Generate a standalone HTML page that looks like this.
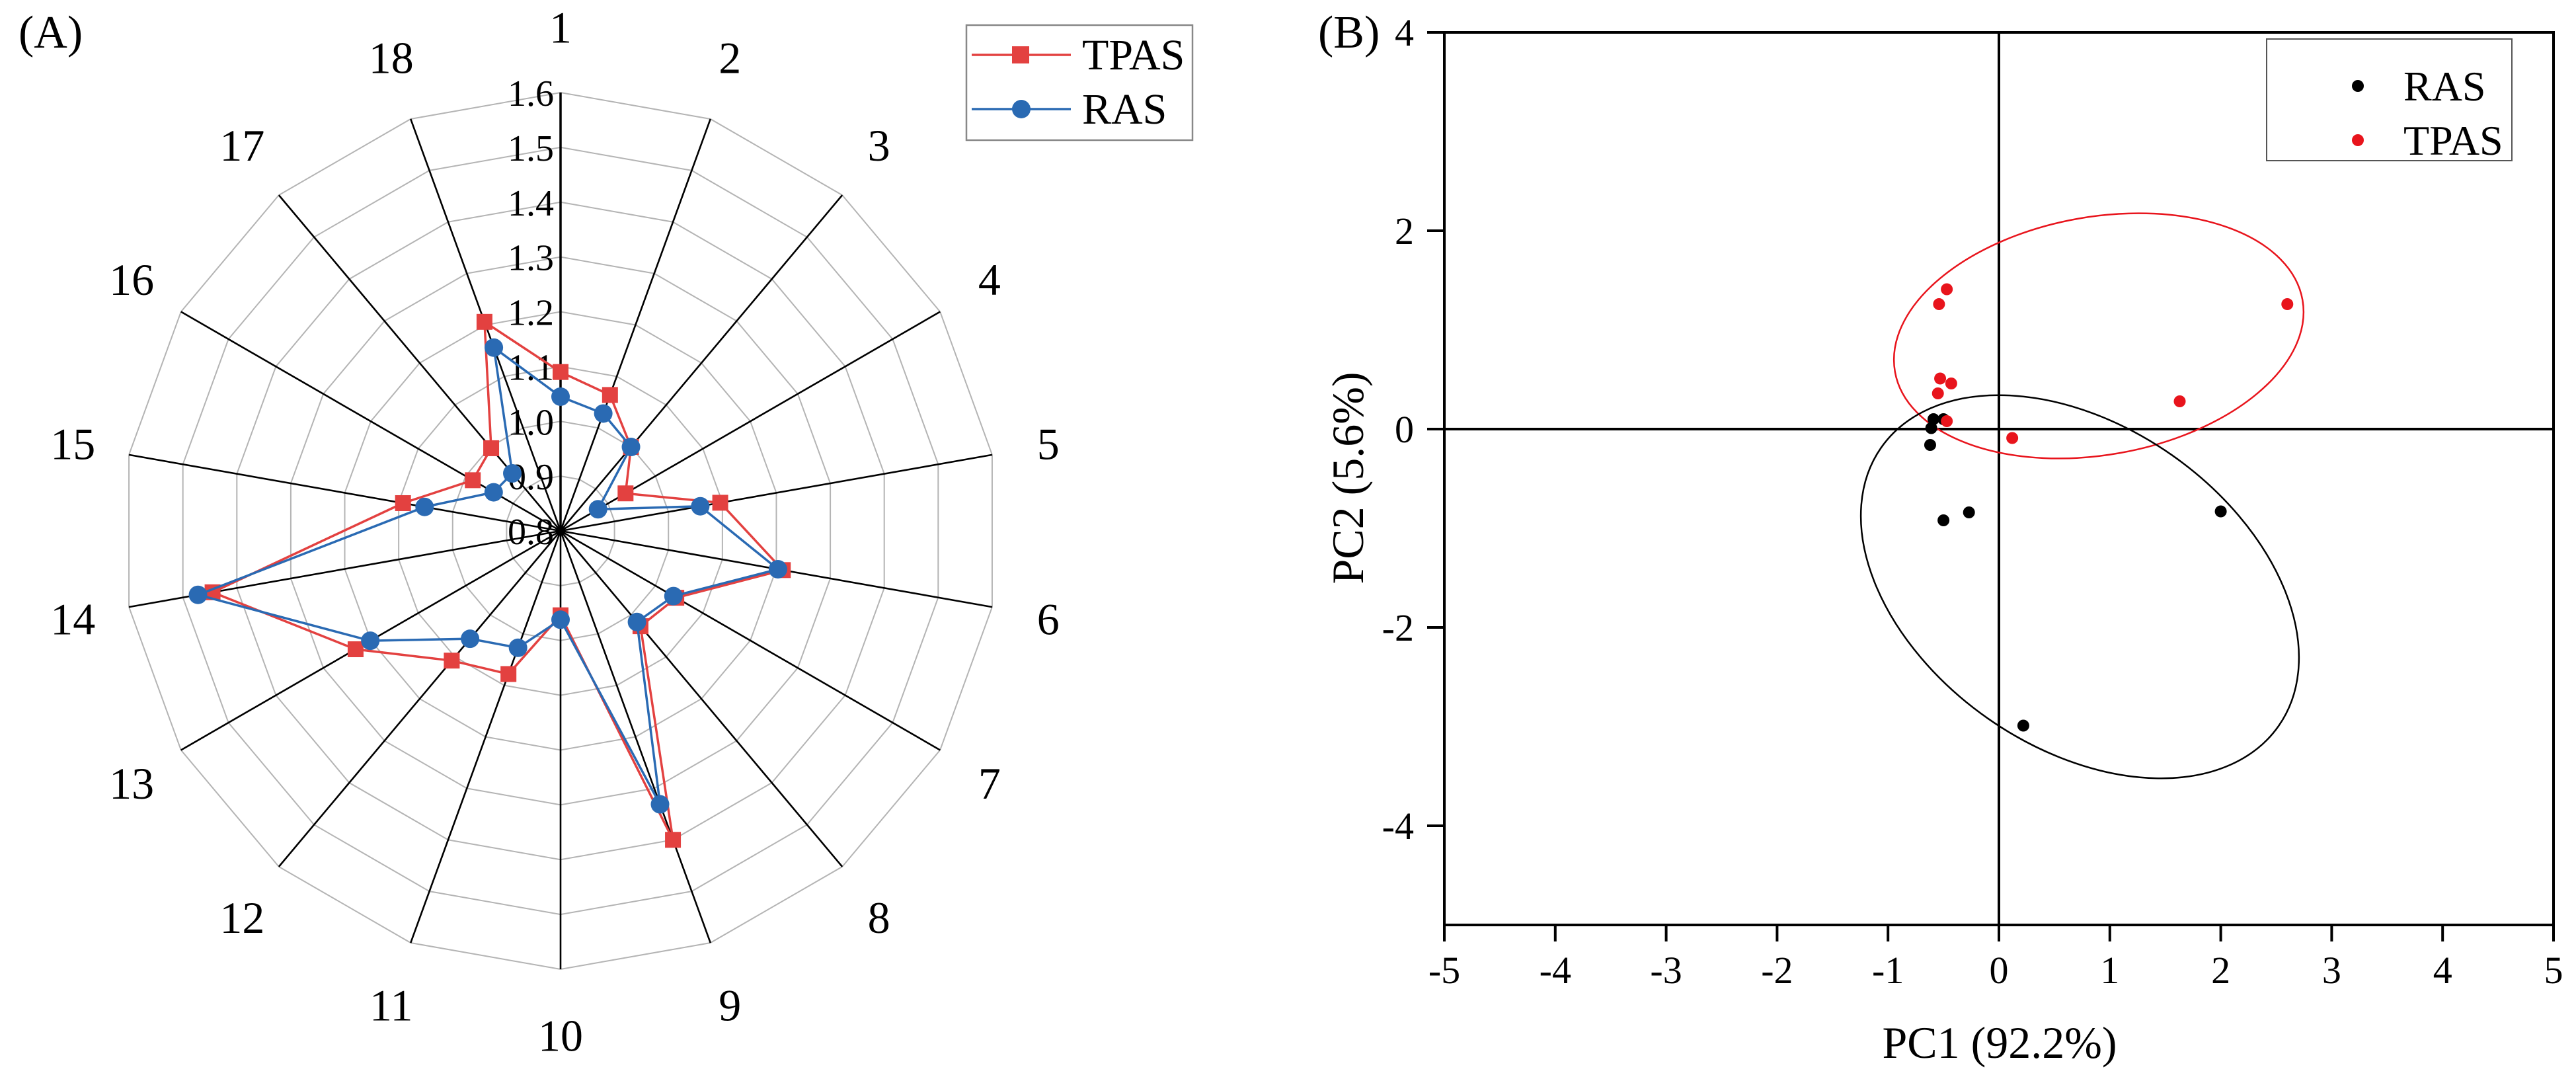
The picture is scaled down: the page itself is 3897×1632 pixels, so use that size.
<!DOCTYPE html>
<html><head><meta charset="utf-8"><style>
html,body{margin:0;padding:0;background:#fff;}
svg{display:block;font-family:"Liberation Serif",serif;}
</style></head><body>
<svg id="fig" width="3897" height="1632" viewBox="0 0 3897 1632" xmlns="http://www.w3.org/2000/svg">
<rect width="3897" height="1632" fill="#fff"/>
<g id="radar"></g>
<g id="pca"></g>
</svg>
<script>
// ---------- Radar data ----------
const radarCategories = ["1","2","3","4","5","6","7","8","9","10","11","12","13","14","15","16","17","18"];
const tpasValues = [1.09,1.064,1.00,0.937,1.096,1.212,1.044,1.027,1.40,0.954,1.078,1.109,1.232,1.445,1.092,0.985,0.997,1.206];
const rasValues  = [1.045,1.028,1.00,0.879,1.059,1.203,1.038,1.017,1.331,0.962,1.027,1.057,1.201,1.472,1.052,0.941,0.937,1.156];
const radarTicks = ["0.8","0.9","1.0","1.1","1.2","1.3","1.4","1.5","1.6"];
// ---------- PCA data ----------
const rasPC1  = [-0.59,-0.50,-0.61,-0.62,-0.50,-0.27,2.00,0.22];
const rasPC2  = [0.10,0.10,0.01,-0.16,-0.92,-0.84,-0.83,-2.99];
const tpasPC1 = [-0.47,-0.54,-0.53,-0.43,-0.55,-0.47,0.12,1.63,2.60];
const tpasPC2 = [1.41,1.26,0.51,0.46,0.36,0.08,-0.09,0.28,1.26];
const xTicks = ["-5","-4","-3","-2","-1","0","1","2","3","4","5"];
const yTicks = ["-4","-2","0","2","4"];
// confidence ellipses (data centre)
const redEllipseCenter = [0.90, 0.94];
const blackEllipseCenter = [0.73, -1.59];

const NS="http://www.w3.org/2000/svg";
function mk(tag,attrs,parent,text){const e=document.createElementNS(NS,tag);for(const k in attrs)e.setAttribute(k,attrs[k]);if(text!==undefined)e.textContent=text;parent.appendChild(e);return e;}

// ----- Radar -----
const R=document.getElementById('radar');
const cx=848, cy=803, RAD=663, vmin=0.8, vmax=1.6;
const N=radarCategories.length;
function rScale(v){return (v-vmin)/(vmax-vmin)*RAD;}
function pt(i,v){const a=i*2*Math.PI/N;const r=rScale(v);return [cx+r*Math.sin(a), cy-r*Math.cos(a)];}
// rings
radarTicks.forEach((t,k)=>{
  const v=parseFloat(t); if(v===vmin) return;
  const pts=[];for(let i=0;i<N;i++)pts.push(pt(i,v).join(','));
  const ring=mk('polygon',{points:pts.join(' '),fill:'none',stroke:'#b4b4b4','stroke-width':2},R);
  
  
});
// spokes
for(let i=0;i<N;i++){
  const p=pt(i,vmax);
  const s=mk('line',{x1:cx,y1:cy,x2:p[0],y2:p[1],stroke:'#000','stroke-width':i===0?3.5:2.6},R);
  
  
}
// tick labels
radarTicks.forEach(t=>{
  const v=parseFloat(t);
  const el=mk('text',{x:cx-10,y:cy-rScale(v)+20,'text-anchor':'end','font-size':56,fill:'#000'},R,t);
  
  
});
// category labels
radarCategories.forEach((c,i)=>{
  const a=i*2*Math.PI/N;
  const x=cx+RAD*1.13*Math.sin(a), y=cy-RAD*1.15*Math.cos(a)+24;
  const el=mk('text',{x:x,y:y,'text-anchor':'middle','font-size':68,fill:'#000'},R,c);
  
  
});
// series
function drawSeries(vals,color,name,square){
  const g=mk('g',{},R);
  
  
  const pts=vals.map((v,i)=>pt(i,v));
  const pl=mk('polygon',{points:pts.map(p=>p.join(',')).join(' '),fill:'none',stroke:color,'stroke-width':3.5},g);
  
  
  pts.forEach((p,i)=>{
    let m;
    if(square) m=mk('rect',{x:p[0]-12,y:p[1]-12,width:24,height:24,fill:color},g);
    else m=mk('circle',{cx:p[0],cy:p[1],r:14,fill:color},g);
    
    
  });
}
drawSeries(tpasValues,'#e34140','tpas',true);
drawSeries(rasValues,'#2a6ab3','ras',false);
// panel label
const la=mk('text',{x:28,y:72,'font-size':70,fill:'#000'},R,'(A)');


// legend A
const lg=mk('g',{},R);


mk('rect',{x:1462,y:38,width:342,height:174,fill:'#fff',stroke:'#888','stroke-width':2.5},lg);
mk('line',{x1:1470,y1:83,x2:1620,y2:83,stroke:'#e34140','stroke-width':3.5},lg);
mk('rect',{x:1531,y:70,width:26,height:26,fill:'#e34140'},lg);
mk('text',{x:1637,y:105,'font-size':66},lg,'TPAS');
mk('line',{x1:1470,y1:165,x2:1620,y2:165,stroke:'#2a6ab3','stroke-width':3.5},lg);
mk('circle',{cx:1545,cy:165,r:14,fill:'#2a6ab3'},lg);
mk('text',{x:1637,y:187,'font-size':66},lg,'RAS');

// ----- PCA -----
const P=document.getElementById('pca');
const X0=2185,X1=3863,Y0=49,Y1=1399,xmin=-5,xmax=5,ymin=-5,ymax=4;
function sx(v){return X0+(v-xmin)/(xmax-xmin)*(X1-X0);}
function sy(v){return Y1-(v-ymin)/(ymax-ymin)*(Y1-Y0);}
const frame=mk('rect',{x:X0,y:Y0,width:X1-X0,height:Y1-Y0,fill:'none',stroke:'#000','stroke-width':4},P);


const zx=mk('line',{x1:sx(0),y1:Y0,x2:sx(0),y2:Y1,stroke:'#000','stroke-width':4},P);


const zy=mk('line',{x1:X0,y1:sy(0),x2:X1,y2:sy(0),stroke:'#000','stroke-width':4},P);


xTicks.forEach(t=>{
  const x=sx(parseFloat(t));
  mk('line',{x1:x,y1:Y1,x2:x,y2:Y1+25,stroke:'#000','stroke-width':4},P);
  const el=mk('text',{x:x,y:1487,'text-anchor':'middle','font-size':58},P,t);
  
  
});
yTicks.forEach(t=>{
  const y=sy(parseFloat(t));
  mk('line',{x1:X0-26,y1:y,x2:X0,y2:y,stroke:'#000','stroke-width':4},P);
  const el=mk('text',{x:2139,y:y+20,'text-anchor':'end','font-size':58},P,t);
  
  
});
const xt=mk('text',{x:3025,y:1600,'text-anchor':'middle','font-size':68},P,'PC1 (92.2%)');


const yt=mk('text',{x:0,y:0,'text-anchor':'middle','font-size':68,transform:'translate(2062,723) rotate(-90)'},P,'PC2 (5.6%)');


const lb=mk('text',{x:1994,y:72,'font-size':70},P,'(B)');


// ellipses
const e1=mk('ellipse',{cx:sx(redEllipseCenter[0]),cy:sy(redEllipseCenter[1]),rx:313,ry:180,fill:'none',stroke:'#e8141c','stroke-width':2.5,transform:`rotate(-10 ${sx(redEllipseCenter[0])} ${sy(redEllipseCenter[1])})`},P);


const e2=mk('ellipse',{cx:sx(blackEllipseCenter[0]),cy:sy(blackEllipseCenter[1]),rx:367,ry:243,fill:'none',stroke:'#000','stroke-width':2.5,transform:`rotate(35 ${sx(blackEllipseCenter[0])} ${sy(blackEllipseCenter[1])})`},P);


// points
rasPC1.forEach((v,i)=>{
  const c=mk('circle',{cx:sx(v),cy:sy(rasPC2[i]),r:9,fill:'#000'},P);
  
  
});
tpasPC1.forEach((v,i)=>{
  const c=mk('circle',{cx:sx(v),cy:sy(tpasPC2[i]),r:9,fill:'#e8141c'},P);
  
  
});
// legend B
const lg2=mk('g',{},P);


mk('rect',{x:3429,y:59,width:371,height:184,fill:'#fff',stroke:'#555','stroke-width':2},lg2);
mk('circle',{cx:3567,cy:130,r:9,fill:'#000'},lg2);
mk('text',{x:3636,y:152,'font-size':64},lg2,'RAS');
mk('circle',{cx:3567,cy:212,r:9,fill:'#e8141c'},lg2);
mk('text',{x:3636,y:234,'font-size':64},lg2,'TPAS');
</script>
</body></html>
